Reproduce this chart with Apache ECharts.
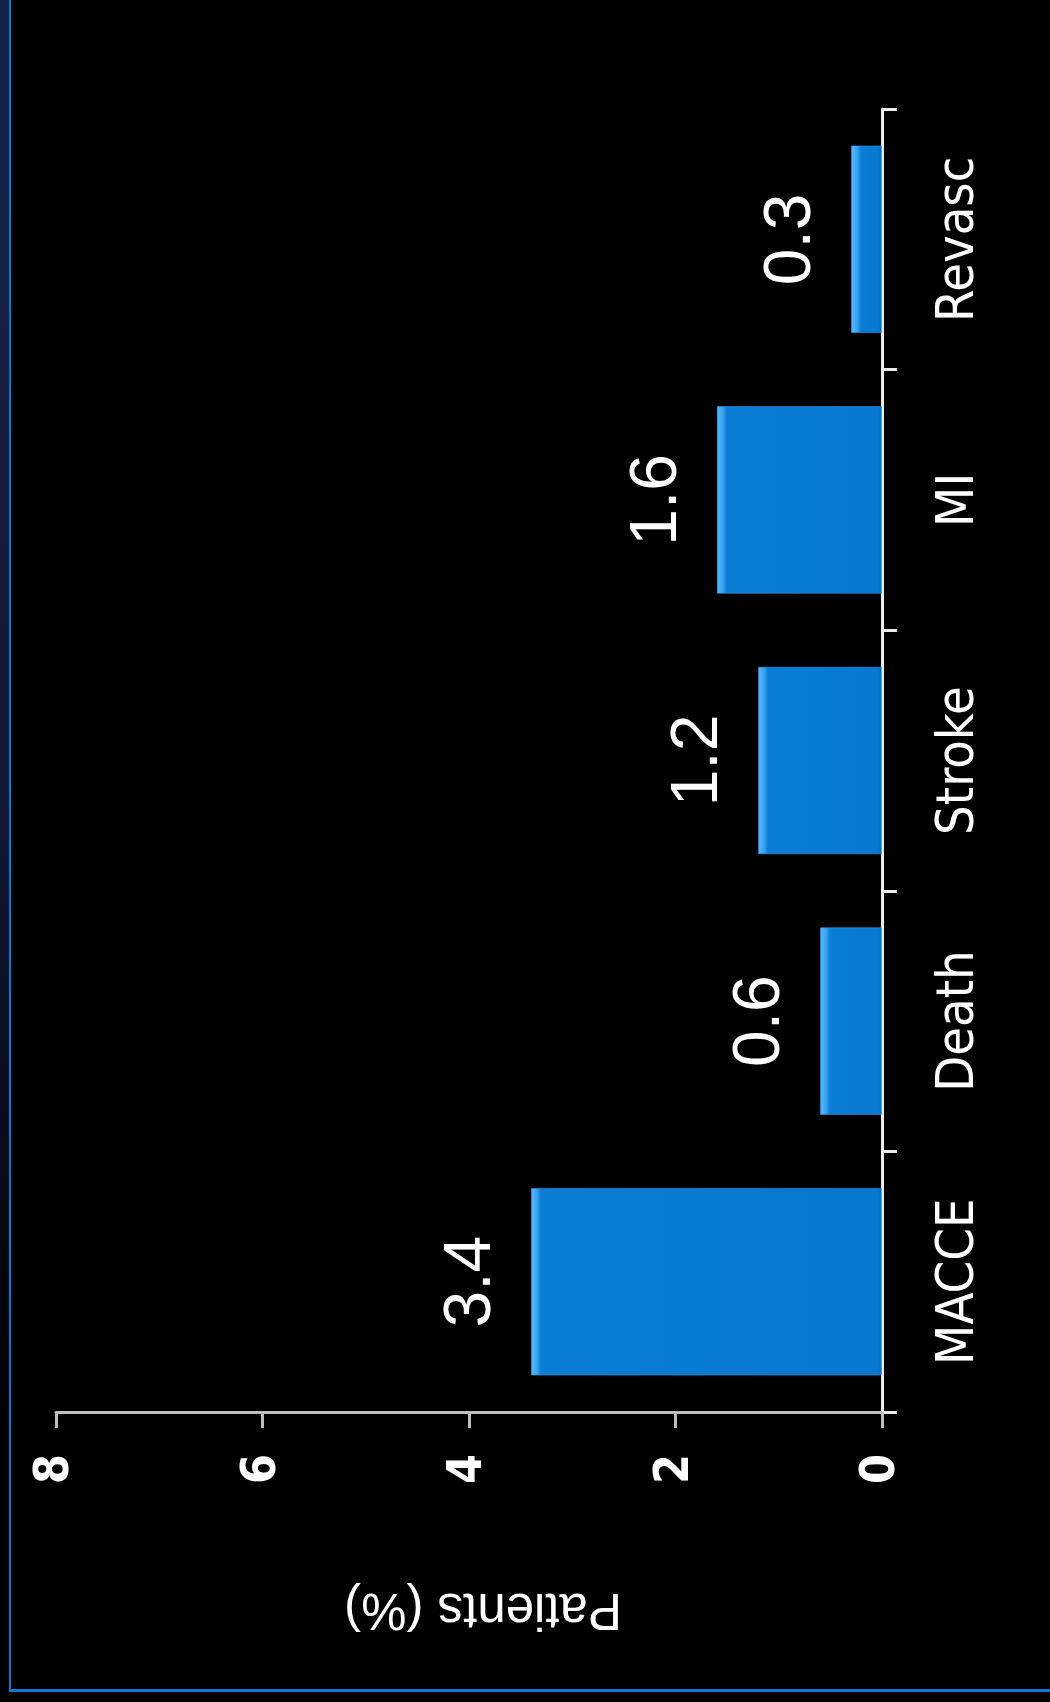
<!DOCTYPE html>
<html>
<head>
<meta charset="utf-8">
<title>Patients (%)</title>
<script src="https://cdn.jsdelivr.net/npm/echarts@6/dist/echarts.min.js"></script>
<style>
  html, body { margin: 0; padding: 0; background: #000; overflow: hidden; }
  #edge { position: absolute; left: 0; top: 0; width: 9px; height: 1702px;
          background: linear-gradient(#18234a 0%, #121a3a 45%, #000 85%); }
  #frame { position: absolute; left: 9px; top: -4px; width: 1100px; height: 1693px;
           border-left: 2px solid #0a78d4; border-bottom: 3px solid #0a78d4; }
  #chart { position: absolute; left: 0; top: 0; width: 1050px; height: 1702px; }
</style>
</head>
<body>
<div id="edge"></div>
<div id="frame"></div>
<div id="chart"></div>
<script>
// Event rates
const categories = ['MACCE', 'Death', 'Stroke', 'MI', 'Revasc'];
const patientsPct = [3.4, 0.6, 1.2, 1.6, 0.3];
const axisMin = 0;
const axisMax = 8;
const axisStep = 2;

const NARROW = '"Liberation Sans Narrow", "DejaVu Sans Condensed", "Roboto Condensed", sans-serif';
const PLAIN = '"Liberation Sans", Arial, sans-serif';

const chart = echarts.init(document.getElementById('chart'), null, { renderer: 'canvas' });

function baseOption(barData) {
  return {
    backgroundColor: 'transparent',
    animation: false,
    grid: { left: 56, right: 168, top: 109, bottom: 290, containLabel: false },
    xAxis: {
      type: 'value',
      inverse: true,
      min: axisMin,
      max: axisMax,
      interval: axisStep,
      position: 'bottom',
      axisLine: { show: true, lineStyle: { color: '#bdbdbd', width: 3 } },
      axisTick: { show: true, length: 16, lineStyle: { color: '#bdbdbd', width: 3 } },
      splitLine: { show: false },
      axisLabel: {
        rotate: 90, margin: 42, color: '#ffffff',
        fontSize: 48, fontWeight: 'bold', fontFamily: NARROW
      },
      name: 'Patients (%)',
      nameLocation: 'middle',
      nameRotate: 180,
      nameGap: 171,
      nameTextStyle: { color: '#ffffff', fontSize: 51, fontFamily: PLAIN, padding: [0, 28, 0, 0] }
    },
    yAxis: {
      type: 'category',
      data: categories,
      position: 'right',
      axisLine: { show: true, lineStyle: { color: '#ececec', width: 3 } },
      axisTick: { show: true, length: 15, interval: 0, lineStyle: { color: '#ececec', width: 3 } },
      splitLine: { show: false },
      axisLabel: {
        rotate: 90, margin: 51, color: '#ffffff',
        fontSize: 52, fontFamily: NARROW
      }
    },
    series: [{
      type: 'bar',
      data: barData,
      barWidth: '72%',
      itemStyle: { color: '#0878d0' },
      label: {
        show: true,
        position: 'left',
        distance: 26,
        rotate: 90,
        align: 'center',
        verticalAlign: 'bottom',
        color: '#ffffff',
        fontSize: 66,
        fontFamily: PLAIN,
        formatter: p => p.value.toFixed(1)
      }
    }]
  };
}

chart.setOption(baseOption(patientsPct));

// Bevelled fill: a light strip at the bar tip, a slightly dark strip at the base
const pxPerUnit = Math.abs(chart.convertToPixel({ xAxisIndex: 0 }, 1) - chart.convertToPixel({ xAxisIndex: 0 }, 0));
const shaded = patientsPct.map(v => {
  const len = v * pxPerUnit;
  const tip = Math.min(0.3, 6 / len);
  const soft = Math.min(0.4, 10 / len);
  const base = Math.max(soft + 0.01, 1 - 4 / len);
  return {
    value: v,
    itemStyle: {
      color: {
        type: 'linear', x: 0, y: 0, x2: 1, y2: 0,
        colorStops: [
          { offset: 0, color: '#5cbcff' },
          { offset: tip, color: '#3aa3f2' },
          { offset: soft, color: '#0c7dd5' },
          { offset: base, color: '#0878d0' },
          { offset: 1, color: '#066cc0' }
        ]
      },
      borderColor: 'rgba(60,150,230,0.6)',
      borderWidth: 1
    }
  };
});
chart.setOption(baseOption(shaded));
</script>
</body>
</html>
